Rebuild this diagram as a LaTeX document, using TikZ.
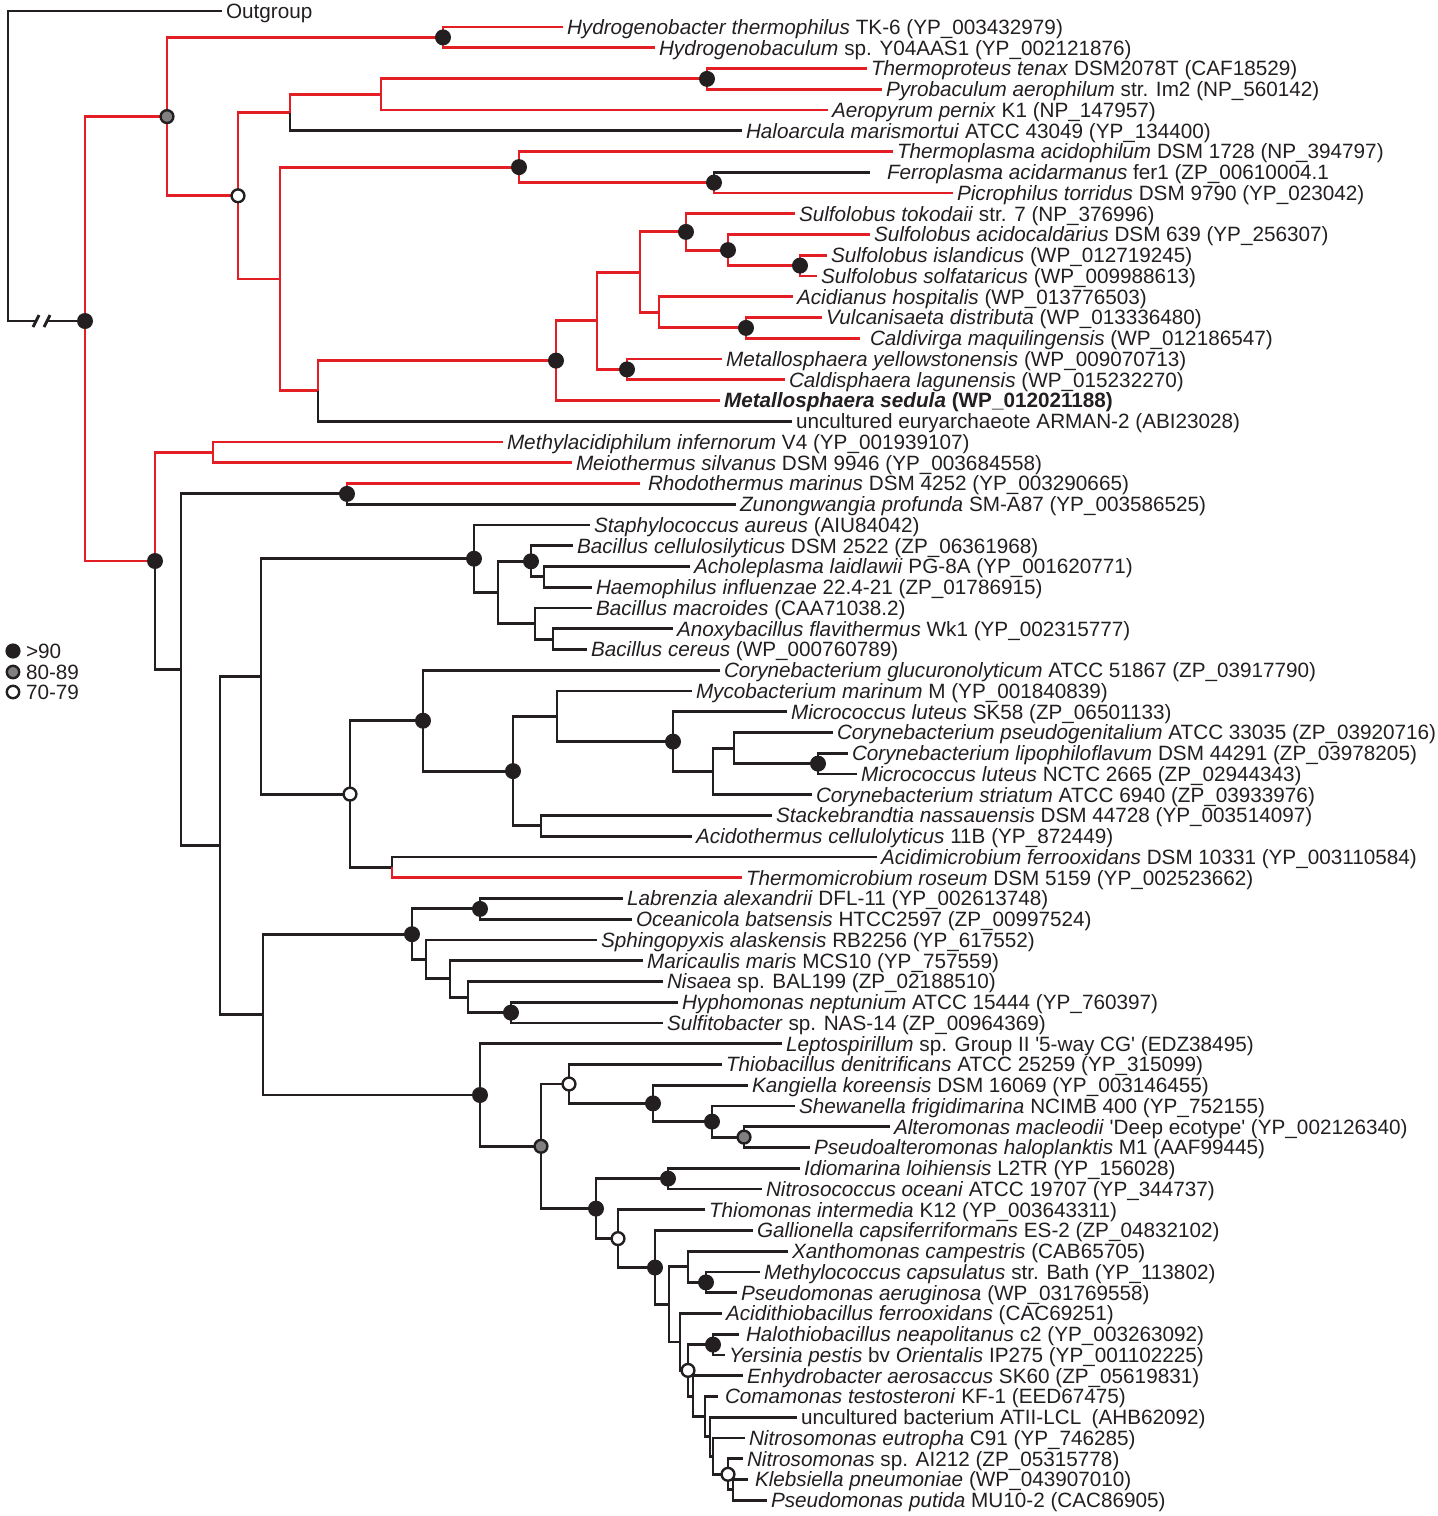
\documentclass[tikz,border=0pt]{standalone}
\usepackage{fontspec}
\setmainfont{Liberation Sans}
\usepackage{tikz}
\definecolor{treered}{RGB}{227,30,36}
\definecolor{treeblack}{RGB}{35,31,32}
\definecolor{nodegrey}{RGB}{128,128,128}
\newcommand{\lbl}{\fontsize{10.35}{12}\selectfont}
\newcommand{\sq}{\textquotesingle}

\begin{document}
\begin{tikzpicture}[x=0.5pt,y=-0.5pt,
  br/.style={draw=treeblack,line width=1.45pt},
  rb/.style={draw=treered,line width=1.45pt},
  leaf/.style={anchor=west,inner xsep=2pt,inner ysep=0pt,outer sep=0pt,
    text height=7.4pt,text depth=0pt,font=\lbl,text=treeblack},
  gdot/.style={draw=treeblack,fill=nodegrey,line width=1.2pt},
  wdot/.style={draw=treeblack,fill=white,line width=1.2pt}]
\useasboundingbox (0,0) rectangle (1437,1516);

% inner nodes, archaea part
\coordinate (root) at (8,321);
\coordinate (brkA) at (36,321);
\coordinate (brkB) at (47,321);
\coordinate (nA) at (85,321);
\coordinate (nGrey) at (167,116.6);
\coordinate (nHyd) at (443,37.4);
\coordinate (nOpen) at (238,195.8);
\coordinate (nHal) at (290,112.6);
\coordinate (nAer) at (381,94.4);
\coordinate (nTp) at (707,78.9);
\coordinate (nPla) at (280,279);
\coordinate (nTpl) at (519,167.1);
\coordinate (nFer) at (714,182.6);
\coordinate (nArm) at (318,390.9);
\coordinate (nMs) at (556,360.6);
\coordinate (nCre) at (597,320.7);
\coordinate (nSul) at (640,272.1);
\coordinate (nSto) at (686,231.9);
\coordinate (nSa) at (728,250.1);
\coordinate (nSt) at (800,265.6);
\coordinate (nAci) at (659,312.3);
\coordinate (nVul) at (746,327.9);
\coordinate (nMy) at (627,369.4);

% inner nodes, bacteria part
\coordinate (nB) at (155,561);
\coordinate (nMe) at (213,452.4);
\coordinate (nBac) at (181,669.7);
\coordinate (nRh) at (347,493.9);
\coordinate (nPro2) at (220,845.5);
\coordinate (nFir) at (261,676.4);
\coordinate (nSta) at (474,558.7);
\coordinate (nBb) at (498,592.4);
\coordinate (nBc) at (531,561.3);
\coordinate (nBa3) at (544,576.9);
\coordinate (nBm) at (535,623.6);
\coordinate (nAn) at (553,639.1);
\coordinate (nOpen2) at (350,794.1);
\coordinate (nCg) at (423,720.7);
\coordinate (nAct) at (513,771.1);
\coordinate (nMm) at (557,716.3);
\coordinate (nMl) at (673,741.6);
\coordinate (nCs) at (713,771.4);
\coordinate (nCp) at (734,748.1);
\coordinate (nCl) at (818,763.6);
\coordinate (nSk) at (541,825.9);
\coordinate (nAm) at (392,867.4);
\coordinate (nPro) at (263,1014.6);
\coordinate (nAlp) at (412,934.2);
\coordinate (nLab) at (480,908.9);
\coordinate (nSph) at (426,959.5);
\coordinate (nMar) at (450,978.9);
\coordinate (nNis) at (468,997.1);
\coordinate (nHyp) at (511,1012.6);
\coordinate (nLep) at (480,1095);
\coordinate (nGrey2) at (541,1146.3);
\coordinate (nThb) at (569,1084);
\coordinate (nKan) at (653,1103.4);
\coordinate (nShe) at (712,1121.6);
\coordinate (nAlt) at (744,1137.1);
\coordinate (nGam) at (596,1208.6);
\coordinate (nIdi) at (668,1178.6);
\coordinate (nThm) at (618,1238.6);
\coordinate (nGal) at (655,1267.5);
\coordinate (nPg) at (669,1304.4);
\coordinate (nXan) at (688,1266.8);
\coordinate (nMet) at (706,1282.4);
\coordinate (nAth) at (680,1342);
\coordinate (nOpen4) at (688,1370.4);
\coordinate (nHalo) at (713,1344.6);
\coordinate (nEnh) at (693,1396.2);
\coordinate (nCom) at (705,1416.6);
\coordinate (nUnc) at (710,1436.7);
\coordinate (nNeu) at (713,1456.2);
\coordinate (nNsp) at (728,1474.3);
\coordinate (nKle2) at (733,1489.9);

% leaves
\node[leaf] (L1) at (222,11) {Outgroup};
\node[leaf] (L2) at (563,27) {\textit{Hydrogenobacter thermophilus} TK-6 (YP\_003432979)};
\node[leaf] (L3) at (655,47.75) {\textit{Hydrogenobaculum} sp. Y04AAS1 (YP\_002121876)};
\node[leaf] (L4) at (867,68.5) {\textit{Thermoproteus tenax} DSM2078T (CAF18529)};
\node[leaf] (L5) at (882,89.25) {\textit{Pyrobaculum aerophilum} str. Im2 (NP\_560142)};
\node[leaf] (L6) at (828,110) {\textit{Aeropyrum pernix} K1 (NP\_147957)};
\node[leaf] (L7) at (742,130.75) {\textit{Haloarcula marismortui} ATCC 43049 (YP\_134400)};
\node[leaf] (L8) at (893,151.5) {\textit{Thermoplasma acidophilum} DSM 1728 (NP\_394797)};
\node[leaf] (L9) at (870,172.25) {\hspace*{6.5pt}\textit{Ferroplasma acidarmanus} fer1 (ZP\_00610004.1};
\node[leaf] (L10) at (953,193) {\textit{Picrophilus torridus} DSM 9790 (YP\_023042)};
\node[leaf] (L11) at (795,213.75) {\textit{Sulfolobus tokodaii} str. 7 (NP\_376996)};
\node[leaf] (L12) at (870,234.5) {\textit{Sulfolobus acidocaldarius} DSM 639 (YP\_256307)};
\node[leaf] (L13) at (827,255.25) {\textit{Sulfolobus islandicus} (WP\_012719245)};
\node[leaf] (L14) at (817,276) {\textit{Sulfolobus solfataricus} (WP\_009988613)};
\node[leaf] (L15) at (793,296.75) {\textit{Acidianus hospitalis} (WP\_013776503)};
\node[leaf] (L16) at (822,317.5) {\textit{Vulcanisaeta distributa} (WP\_013336480)};
\node[leaf] (L17) at (860,338.25) {\hspace*{3pt}\textit{Caldivirga maquilingensis} (WP\_012186547)};
\node[leaf] (L18) at (722,359) {\textit{Metallosphaera yellowstonensis} (WP\_009070713)};
\node[leaf] (L19) at (785,379.75) {\textit{Caldisphaera lagunensis} (WP\_015232270)};
\node[leaf] (L20) at (720,400.5) {\textbf{\textit{Metallosphaera sedula} (WP\_012021188)}};
\node[leaf] (L21) at (792,421.25) {uncultured euryarchaeote ARMAN-2 (ABI23028)};
\node[leaf] (L22) at (503,442) {\textit{Methylacidiphilum infernorum} V4 (YP\_001939107)};
\node[leaf] (L23) at (572,462.75) {\textit{Meiothermus silvanus} DSM 9946 (YP\_003684558)};
\node[leaf] (L24) at (640,483.5) {\hspace*{2pt}\textit{Rhodothermus marinus} DSM 4252 (YP\_003290665)};
\node[leaf] (L25) at (736,504.25) {\textit{Zunongwangia profunda} SM-A87 (YP\_003586525)};
\node[leaf] (L26) at (590,525) {\textit{Staphylococcus aureus} (AIU84042)};
\node[leaf] (L27) at (573,545.75) {\textit{Bacillus cellulosilyticus} DSM 2522 (ZP\_06361968)};
\node[leaf] (L28) at (690,566.5) {\textit{Acholeplasma laidlawii} PG-8A (YP\_001620771)};
\node[leaf] (L29) at (592,587.25) {\textit{Haemophilus influenzae} 22.4-21 (ZP\_01786915)};
\node[leaf] (L30) at (592,608) {\textit{Bacillus macroides} (CAA71038.2)};
\node[leaf] (L31) at (673,628.75) {\textit{Anoxybacillus flavithermus} Wk1 (YP\_002315777)};
\node[leaf] (L32) at (587,649.5) {\textit{Bacillus cereus} (WP\_000760789)};
\node[leaf] (L33) at (720,670.25) {\textit{Corynebacterium glucuronolyticum} ATCC 51867 (ZP\_03917790)};
\node[leaf] (L34) at (692,691) {\textit{Mycobacterium marinum} M (YP\_001840839)};
\node[leaf] (L35) at (787,711.75) {\textit{Micrococcus luteus} SK58 (ZP\_06501133)};
\node[leaf] (L36) at (833,732.5) {\textit{Corynebacterium pseudogenitalium} ATCC 33035 (ZP\_03920716)};
\node[leaf] (L37) at (848,753.25) {\textit{Corynebacterium lipophiloflavum} DSM 44291 (ZP\_03978205)};
\node[leaf] (L38) at (857,774) {\textit{Micrococcus luteus} NCTC 2665 (ZP\_02944343)};
\node[leaf] (L39) at (812,794.75) {\textit{Corynebacterium striatum} ATCC 6940 (ZP\_03933976)};
\node[leaf] (L40) at (772,815.5) {\textit{Stackebrandtia nassauensis} DSM 44728 (YP\_003514097)};
\node[leaf] (L41) at (692,836.25) {\textit{Acidothermus cellulolyticus} 11B (YP\_872449)};
\node[leaf] (L42) at (877,857) {\textit{Acidimicrobium ferrooxidans} DSM 10331 (YP\_003110584)};
\node[leaf] (L43) at (742,877.75) {\textit{Thermomicrobium roseum} DSM 5159 (YP\_002523662)};
\node[leaf] (L44) at (623,898.5) {\textit{Labrenzia alexandrii} DFL-11 (YP\_002613748)};
\node[leaf] (L45) at (632,919.25) {\textit{Oceanicola batsensis} HTCC2597 (ZP\_00997524)};
\node[leaf] (L46) at (597,940) {\textit{Sphingopyxis alaskensis} RB2256 (YP\_617552)};
\node[leaf] (L47) at (643,960.75) {\textit{Maricaulis maris} MCS10 (YP\_757559)};
\node[leaf] (L48) at (663,981.5) {\textit{Nisaea} sp. BAL199 (ZP\_02188510)};
\node[leaf] (L49) at (678,1002.25) {\textit{Hyphomonas neptunium} ATCC 15444 (YP\_760397)};
\node[leaf] (L50) at (663,1023) {\textit{Sulfitobacter} sp. NAS-14 (ZP\_00964369)};
\node[leaf] (L51) at (782,1043.75) {\textit{Leptospirillum} sp. Group II \sq 5-way CG\sq{} (EDZ38495)};
\node[leaf] (L52) at (722,1064.5) {\textit{Thiobacillus denitrificans} ATCC 25259 (YP\_315099)};
\node[leaf] (L53) at (748,1085.25) {\textit{Kangiella koreensis} DSM 16069 (YP\_003146455)};
\node[leaf] (L54) at (795,1106) {\textit{Shewanella frigidimarina} NCIMB 400 (YP\_752155)};
\node[leaf] (L55) at (890,1126.75) {\textit{Alteromonas macleodii} \sq Deep ecotype\sq{} (YP\_002126340)};
\node[leaf] (L56) at (810,1147.5) {\textit{Pseudoalteromonas haloplanktis} M1 (AAF99445)};
\node[leaf] (L57) at (800,1168.25) {\textit{Idiomarina loihiensis} L2TR (YP\_156028)};
\node[leaf] (L58) at (762,1189) {\textit{Nitrosococcus oceani} ATCC 19707 (YP\_344737)};
\node[leaf] (L59) at (705,1209.75) {\textit{Thiomonas intermedia} K12 (YP\_003643311)};
\node[leaf] (L60) at (753,1230.5) {\textit{Gallionella capsiferriformans} ES-2 (ZP\_04832102)};
\node[leaf] (L61) at (788,1251.25) {\textit{Xanthomonas campestris} (CAB65705)};
\node[leaf] (L62) at (760,1272) {\textit{Methylococcus capsulatus} str. Bath (YP\_113802)};
\node[leaf] (L63) at (737,1292.75) {\textit{Pseudomonas aeruginosa} (WP\_031769558)};
\node[leaf] (L64) at (722,1313.5) {\textit{Acidithiobacillus ferrooxidans} (CAC69251)};
\node[leaf] (L65) at (739,1334.25) {\hspace*{1.5pt}\textit{Halothiobacillus neapolitanus} c2 (YP\_003263092)};
\node[leaf] (L66) at (725,1355) {\textit{Yersinia pestis} bv \textit{Orientalis} IP275 (YP\_001102225)};
\node[leaf] (L67) at (743,1375.75) {\textit{Enhydrobacter aerosaccus} SK60 (ZP\_05619831)};
\node[leaf] (L68) at (718,1396.5) {\hspace*{1.5pt}\textit{Comamonas testosteroni} KF-1 (EED67475)};
\node[leaf] (L69) at (797,1417.25) {uncultured bacterium ATII-LCL\enspace(AHB62092)};
\node[leaf] (L70) at (745,1438) {\textit{Nitrosomonas eutropha} C91 (YP\_746285)};
\node[leaf] (L71) at (743,1458.75) {\textit{Nitrosomonas} sp. AI212 (ZP\_05315778)};
\node[leaf] (L72) at (748,1479.5) {\hspace*{1.5pt}\textit{Klebsiella pneumoniae} (WP\_043907010)};
\node[leaf] (L73) at (767,1500.25) {\textit{Pseudomonas putida} MU10-2 (CAC86905)};

% root and break
\draw[br] (L1) -| (root) -- (brkA);
\draw[br] (brkB) -- (nA);
\draw[br] (33,327) -- (39,315) (44,327) -- (50,315);

% archaea and friends
\draw[rb] (nGrey) -| (nA) |- (nB);
\draw[rb] (nHyd) -| (nGrey) |- (nOpen);
\draw[rb] (L2) -| (nHyd) |- (L3);
\draw[rb] (nHal) -| (nOpen) |- (nPla);
\draw[rb] (nAer) -| (nHal);
\draw[br] (nHal) |- (L7);
\draw[rb] (nTp) -| (nAer) |- (L6);
\draw[rb] (L4) -| (nTp) |- (L5);
\draw[rb] (nTpl) -| (nPla) |- (nArm);
\draw[rb] (L8) -| (nTpl) |- (nFer);
\draw[br] (L9) -| (nFer);
\draw[rb] (nFer) |- (L10);
\draw[rb] (nMs) -| (nArm);
\draw[br] (nArm) |- (L21);
\draw[rb] (nCre) -| (nMs) |- (L20);
\draw[rb] (nSul) -| (nCre) |- (nMy);
\draw[rb] (L18) -| (nMy) |- (L19);
\draw[rb] (nSto) -| (nSul) |- (nAci);
\draw[rb] (L11) -| (nSto) |- (nSa);
\draw[rb] (L12) -| (nSa) |- (nSt);
\draw[rb] (L13) -| (nSt) |- (L14);
\draw[rb] (L15) -| (nAci) |- (nVul);
\draw[rb] (L16) -| (nVul) |- (L17);

% bacteria
\draw[rb] (nMe) -| (nB);
\draw[br] (nB) |- (nBac);
\draw[rb] (L22) -| (nMe) |- (L23);
\draw[br] (nRh) -| (nBac) |- (nPro2);
\draw[rb] (L24) -| (nRh);
\draw[br] (nRh) |- (L25);
\draw[br] (nFir) -| (nPro2) |- (nPro);
\draw[br] (nSta) -| (nFir) |- (nOpen2);
\draw[br] (L26) -| (nSta) |- (nBb);
\draw[br] (nBc) -| (nBb) |- (nBm);
\draw[br] (L27) -| (nBc) |- (nBa3);
\draw[br] (L28) -| (nBa3) |- (L29);
\draw[br] (L30) -| (nBm) |- (nAn);
\draw[br] (L31) -| (nAn) |- (L32);
\draw[br] (nCg) -| (nOpen2) |- (nAm);
\draw[br] (L33) -| (nCg) |- (nAct);
\draw[br] (nMm) -| (nAct) |- (nSk);
\draw[br] (L34) -| (nMm) |- (nMl);
\draw[br] (L35) -| (nMl) |- (nCs);
\draw[br] (nCp) -| (nCs) |- (L39);
\draw[br] (L36) -| (nCp) |- (nCl);
\draw[br] (L37) -| (nCl) |- (L38);
\draw[br] (L40) -| (nSk) |- (L41);
\draw[br] (L42) -| (nAm);
\draw[rb] (nAm) |- (L43);
\draw[br] (nAlp) -| (nPro) |- (nLep);
\draw[br] (nLab) -| (nAlp) |- (nSph);
\draw[br] (L44) -| (nLab) |- (L45);
\draw[br] (L46) -| (nSph) |- (nMar);
\draw[br] (L47) -| (nMar) |- (nNis);
\draw[br] (L48) -| (nNis) |- (nHyp);
\draw[br] (L49) -| (nHyp) |- (L50);
\draw[br] (L51) -| (nLep) |- (nGrey2);
\draw[br] (nThb) -| (nGrey2) |- (nGam);
\draw[br] (L52) -| (nThb) |- (nKan);
\draw[br] (L53) -| (nKan) |- (nShe);
\draw[br] (L54) -| (nShe) |- (nAlt);
\draw[br] (L55) -| (nAlt) |- (L56);
\draw[br] (nIdi) -| (nGam) |- (nThm);
\draw[br] (L57) -| (nIdi) |- (L58);
\draw[br] (L59) -| (nThm) |- (nGal);
\draw[br] (L60) -| (nGal) |- (nPg);
\draw[br] (nXan) -| (nPg) |- (nAth);
\draw[br] (L61) -| (nXan) |- (nMet);
\draw[br] (L62) -| (nMet) |- (L63);
\draw[br] (L64) -| (nAth) |- (nOpen4);
\draw[br] (nHalo) -| (nOpen4) |- (nEnh);
\draw[br] (L65) -| (nHalo) |- (L66);
\draw[br] (L67) -| (nEnh) |- (nCom);
\draw[br] (L68) -| (nCom) |- (nUnc);
\draw[br] (L69) -| (nUnc) |- (nNeu);
\draw[br] (L70) -| (nNeu) |- (nNsp);
\draw[br] (L71) -| (nNsp) |- (nKle2);
\draw[br] (L72) -| (nKle2) |- (L73);

% support dots
\fill[treeblack] (nA) circle (4pt) (nHyd) circle (4pt) (nTp) circle (4pt)
  (nTpl) circle (4pt) (nFer) circle (4pt) (nMs) circle (4pt) (nSto) circle (4pt)
  (nSa) circle (4pt) (nSt) circle (4pt) (nVul) circle (4pt) (nMy) circle (4pt)
  (nB) circle (4pt) (nRh) circle (4pt) (nSta) circle (4pt) (nBc) circle (4pt)
  (nCg) circle (4pt) (nAct) circle (4pt) (nMl) circle (4pt) (nCl) circle (4pt)
  (nAlp) circle (4pt) (nLab) circle (4pt) (nHyp) circle (4pt) (nLep) circle (4pt)
  (nKan) circle (4pt) (nShe) circle (4pt) (nIdi) circle (4pt) (nGam) circle (4pt)
  (nGal) circle (4pt) (nMet) circle (4pt) (nHalo) circle (4pt);
\draw[gdot] (nGrey) circle (3.2pt) (nGrey2) circle (3.2pt) (nAlt) circle (3.2pt);
\draw[wdot] (nOpen) circle (3.2pt) (nOpen2) circle (3.2pt) (nThb) circle (3.2pt)
  (nThm) circle (3.2pt) (nOpen4) circle (3.2pt) (nNsp) circle (3.2pt);

% legend
\coordinate (k1) at (13,651);
\coordinate (k2) at (13,672);
\coordinate (k3) at (13,692);
\fill[treeblack] (k1) circle (3.8pt);
\draw[gdot] (k2) circle (3.1pt);
\draw[wdot] (k3) circle (3.1pt);
\node[leaf] (t1) at (22,651) {>90};
\node[leaf] (t2) at (22,672) {80-89};
\node[leaf] (t3) at (22,692) {70-79};
\end{tikzpicture}
\end{document}
